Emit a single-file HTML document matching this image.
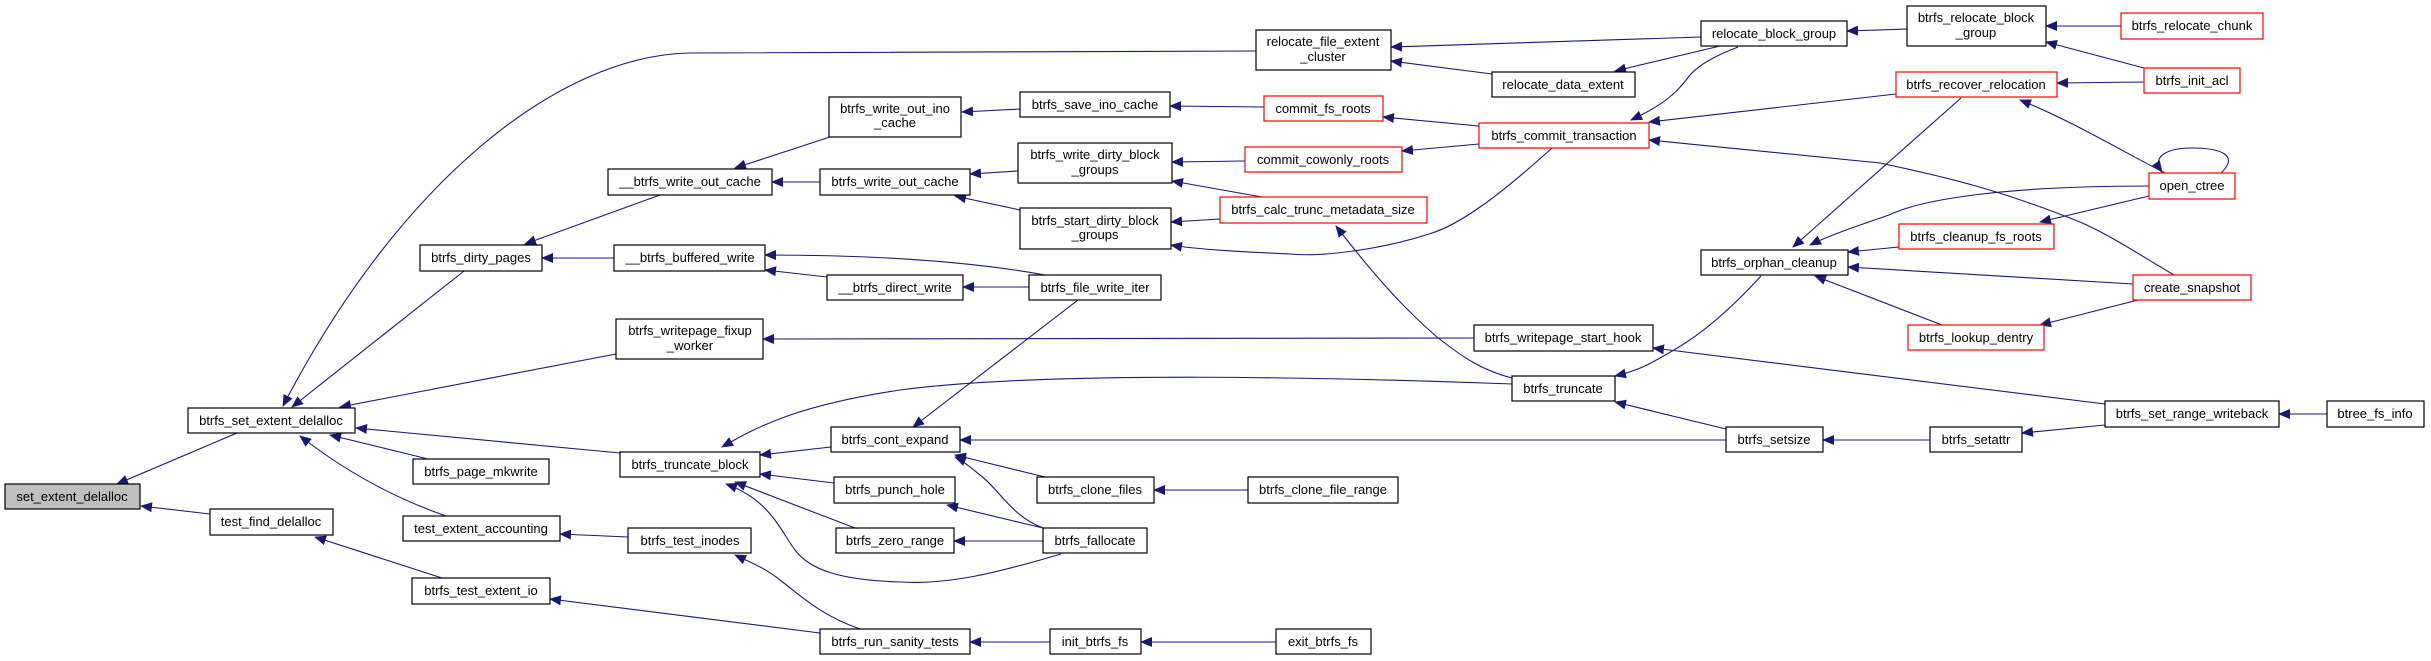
<!DOCTYPE html>
<html><head><meta charset="utf-8"><style>
html,body{margin:0;padding:0;background:#fff;}
svg{display:block}
text{font-family:"Liberation Sans",Helvetica,sans-serif;font-size:13px;fill:#000;text-anchor:middle}
.n{fill:#fff;stroke:#000;stroke-width:1.2}
.r{fill:#fff;stroke:#f00;stroke-width:1.2}
.g{fill:#bfbfbf;stroke:#000;stroke-width:1.2}
path.e{fill:none;stroke:#191970;stroke-width:1.1;marker-end:url(#a)}
</style></head><body>
<svg width="2431" height="661" viewBox="0 0 2431 661" xmlns="http://www.w3.org/2000/svg">
<defs><marker id="a" markerWidth="12" markerHeight="10" refX="11" refY="5" orient="auto" markerUnits="userSpaceOnUse"><path d="M0,0 L12,5 L0,10 Z" fill="#191970"/></marker></defs>
<g>
<path class="e" d="M237,433 L117,484"/>
<path class="e" d="M210,514 L141,506"/>
<path class="e" d="M1256,51 L690,53 C560,55 400,180 283,406"/>
<path class="e" d="M464,271 L292,407"/>
<path class="e" d="M616,354 L340,407"/>
<path class="e" d="M620,453 L356,428"/>
<path class="e" d="M428,459 L330,435"/>
<path class="e" d="M446,516 C400,500 350,475 300,436"/>
<path class="e" d="M442,578 L315,537"/>
<path class="e" d="M660,195 L525,244"/>
<path class="e" d="M614,258 L542,258"/>
<path class="e" d="M830,137 L735,168"/>
<path class="e" d="M820,182 L772,182"/>
<path class="e" d="M1020,109 L962,112"/>
<path class="e" d="M1018,171 L970,174"/>
<path class="e" d="M1020,210 L955,196"/>
<path class="e" d="M1045,275 C990,265 900,255 765,255"/>
<path class="e" d="M827,277 L765,270"/>
<path class="e" d="M1029,287 L963,287"/>
<path class="e" d="M1078,300 L913,427"/>
<path class="e" d="M1474,338 L763,339"/>
<path class="e" d="M1512,384 C1350,378 1050,370 900,390 C800,405 760,425 722,447"/>
<path class="e" d="M831,447 L760,455"/>
<path class="e" d="M834,483 L760,474"/>
<path class="e" d="M855,528 L735,482"/>
<path class="e" d="M1061,554 C1000,572 950,585 900,582 C840,580 810,570 795,550 C780,530 770,500 726,484"/>
<path class="e" d="M1726,440 L960,440"/>
<path class="e" d="M1045,477 L955,455"/>
<path class="e" d="M1043,528 C1010,515 1000,490 980,475 C970,467 962,460 955,457"/>
<path class="e" d="M1043,528 L947,505"/>
<path class="e" d="M1043,541 L954,541"/>
<path class="e" d="M1248,490 L1154,490"/>
<path class="e" d="M860,629 C820,615 800,595 780,580 C765,568 750,562 735,555"/>
<path class="e" d="M628,537 L560,534"/>
<path class="e" d="M820,633 L550,599"/>
<path class="e" d="M1050,642 L970,642"/>
<path class="e" d="M1276,642 L1141,642"/>
<path class="e" d="M1264,107 L1170,106"/>
<path class="e" d="M1245,161 L1172,162"/>
<path class="e" d="M1262,197 L1172,181"/>
<path class="e" d="M1220,219 L1171,222"/>
<path class="e" d="M1552,148 C1500,195 1460,225 1429,234 C1380,250 1320,257 1290,254 C1250,252 1200,250 1171,245"/>
<path class="e" d="M1479,126 L1383,117"/>
<path class="e" d="M1479,144 L1402,151"/>
<path class="e" d="M1512,378 C1480,370 1460,355 1437,337 C1400,305 1370,270 1336,226"/>
<path class="e" d="M1701,37 L1391,47"/>
<path class="e" d="M1492,74 L1391,61"/>
<path class="e" d="M1720,46 L1615,71"/>
<path class="e" d="M1738,47 C1715,56 1700,64 1690,75 C1680,88 1670,102 1631,120"/>
<path class="e" d="M1896,94 L1649,122"/>
<path class="e" d="M2174,275 C2140,255 2110,235 2080,222 C2000,190 1950,178 1880,163 L1649,140"/>
<path class="e" d="M1907,29 L1847,31"/>
<path class="e" d="M2121,26 L2046,26"/>
<path class="e" d="M2144,68 L2046,42"/>
<path class="e" d="M2144,82 L2057,83"/>
<path class="e" d="M2165,173 C2120,150 2070,120 2020,100"/>
<path class="e" d="M1961,98 L1793,247"/>
<path class="e" d="M2149,186 C2000,186 1920,200 1889,215 C1860,225 1830,235 1810,245"/>
<path class="e" d="M2221,173 C2240,155 2220,148 2192,148 C2170,148 2150,155 2162,172"/>
<path class="e" d="M1899,247 L1848,252"/>
<path class="e" d="M2133,284 L1848,267"/>
<path class="e" d="M1942,325 L1815,276"/>
<path class="e" d="M2149,196 L2040,222"/>
<path class="e" d="M2138,300 L2040,325"/>
<path class="e" d="M1761,276 C1730,310 1700,335 1674,350 C1650,364 1640,370 1615,376"/>
<path class="e" d="M1726,429 L1615,402"/>
<path class="e" d="M1930,440 L1823,440"/>
<path class="e" d="M2105,404 L1653,348"/>
<path class="e" d="M2105,425 L2022,433"/>
<path class="e" d="M2327,414 L2279,414"/>
</g>
<g>
<rect class="g" x="5" y="484" width="135" height="25"/><text x="72" y="501">set_extent_delalloc</text>
<rect class="n" x="188" y="408" width="167" height="25"/><text x="271" y="425">btrfs_set_extent_delalloc</text>
<rect class="n" x="210" y="509" width="123" height="26"/><text x="271" y="526">test_find_delalloc</text>
<rect class="n" x="420" y="245" width="122" height="26"/><text x="481" y="262">btrfs_dirty_pages</text>
<rect class="n" x="413" y="459" width="136" height="25"/><text x="481" y="476">btrfs_page_mkwrite</text>
<rect class="n" x="403" y="516" width="157" height="25"/><text x="481" y="533">test_extent_accounting</text>
<rect class="n" x="412" y="578" width="138" height="26"/><text x="481" y="595">btrfs_test_extent_io</text>
<rect class="n" x="608" y="169" width="164" height="26"/><text x="690" y="186">__btrfs_write_out_cache</text>
<rect class="n" x="829" y="97" width="132" height="40"/><text x="895" y="113">btrfs_write_out_ino</text><text x="895" y="127">_cache</text>
<rect class="n" x="820" y="169" width="150" height="26"/><text x="895" y="186">btrfs_write_out_cache</text>
<rect class="n" x="1020" y="92" width="150" height="25"/><text x="1095" y="109">btrfs_save_ino_cache</text>
<rect class="n" x="1018" y="143" width="154" height="40"/><text x="1095" y="159">btrfs_write_dirty_block</text><text x="1095" y="174">_groups</text>
<rect class="n" x="1020" y="208" width="151" height="41"/><text x="1095" y="225">btrfs_start_dirty_block</text><text x="1095" y="239">_groups</text>
<rect class="n" x="614" y="245" width="151" height="26"/><text x="690" y="262">__btrfs_buffered_write</text>
<rect class="n" x="827" y="275" width="136" height="25"/><text x="895" y="292">__btrfs_direct_write</text>
<rect class="n" x="1029" y="275" width="132" height="25"/><text x="1095" y="292">btrfs_file_write_iter</text>
<rect class="n" x="616" y="319" width="147" height="40"/><text x="690" y="335">btrfs_writepage_fixup</text><text x="690" y="350">_worker</text>
<rect class="n" x="620" y="452" width="140" height="25"/><text x="690" y="469">btrfs_truncate_block</text>
<rect class="n" x="831" y="427" width="129" height="25"/><text x="895" y="444">btrfs_cont_expand</text>
<rect class="n" x="834" y="477" width="121" height="26"/><text x="895" y="494">btrfs_punch_hole</text>
<rect class="n" x="1037" y="477" width="117" height="26"/><text x="1095" y="494">btrfs_clone_files</text>
<rect class="n" x="836" y="528" width="118" height="25"/><text x="895" y="545">btrfs_zero_range</text>
<rect class="n" x="1043" y="528" width="104" height="25"/><text x="1095" y="545">btrfs_fallocate</text>
<rect class="n" x="628" y="528" width="123" height="25"/><text x="690" y="545">btrfs_test_inodes</text>
<rect class="n" x="820" y="629" width="150" height="25"/><text x="895" y="646">btrfs_run_sanity_tests</text>
<rect class="n" x="1050" y="629" width="91" height="25"/><text x="1095" y="646">init_btrfs_fs</text>
<rect class="n" x="1256" y="30" width="135" height="40"/><text x="1323" y="46">relocate_file_extent</text><text x="1323" y="61">_cluster</text>
<rect class="n" x="1492" y="72" width="143" height="25"/><text x="1563" y="89">relocate_data_extent</text>
<rect class="n" x="1701" y="21" width="146" height="25"/><text x="1774" y="38">relocate_block_group</text>
<rect class="r" x="1264" y="96" width="119" height="25"/><text x="1323" y="113">commit_fs_roots</text>
<rect class="r" x="1245" y="147" width="157" height="25"/><text x="1323" y="164">commit_cowonly_roots</text>
<rect class="r" x="1220" y="197" width="207" height="26"/><text x="1323" y="214">btrfs_calc_trunc_metadata_size</text>
<rect class="r" x="1479" y="123" width="170" height="25"/><text x="1564" y="140">btrfs_commit_transaction</text>
<rect class="n" x="1701" y="250" width="147" height="25"/><text x="1774" y="267">btrfs_orphan_cleanup</text>
<rect class="n" x="1474" y="325" width="179" height="26"/><text x="1563" y="342">btrfs_writepage_start_hook</text>
<rect class="n" x="1512" y="376" width="103" height="25"/><text x="1563" y="393">btrfs_truncate</text>
<rect class="n" x="1726" y="427" width="97" height="25"/><text x="1774" y="444">btrfs_setsize</text>
<rect class="n" x="1248" y="477" width="150" height="26"/><text x="1323" y="494">btrfs_clone_file_range</text>
<rect class="n" x="1276" y="629" width="95" height="25"/><text x="1323" y="646">exit_btrfs_fs</text>
<rect class="n" x="1907" y="6" width="139" height="40"/><text x="1976" y="22">btrfs_relocate_block</text><text x="1976" y="37">_group</text>
<rect class="r" x="2121" y="13" width="142" height="26"/><text x="2192" y="30">btrfs_relocate_chunk</text>
<rect class="r" x="1896" y="72" width="161" height="25"/><text x="1976" y="89">btrfs_recover_relocation</text>
<rect class="r" x="2144" y="68" width="96" height="25"/><text x="2192" y="85">btrfs_init_acl</text>
<rect class="r" x="2149" y="173" width="86" height="26"/><text x="2192" y="190">open_ctree</text>
<rect class="r" x="1899" y="224" width="155" height="25"/><text x="1976" y="241">btrfs_cleanup_fs_roots</text>
<rect class="r" x="2133" y="275" width="118" height="25"/><text x="2192" y="292">create_snapshot</text>
<rect class="r" x="1908" y="325" width="136" height="25"/><text x="1976" y="342">btrfs_lookup_dentry</text>
<rect class="n" x="2105" y="401" width="174" height="26"/><text x="2192" y="418">btrfs_set_range_writeback</text>
<rect class="n" x="1930" y="427" width="92" height="25"/><text x="1976" y="444">btrfs_setattr</text>
<rect class="n" x="2327" y="401" width="97" height="26"/><text x="2375" y="418">btree_fs_info</text>
</g>
</svg>
</body></html>
